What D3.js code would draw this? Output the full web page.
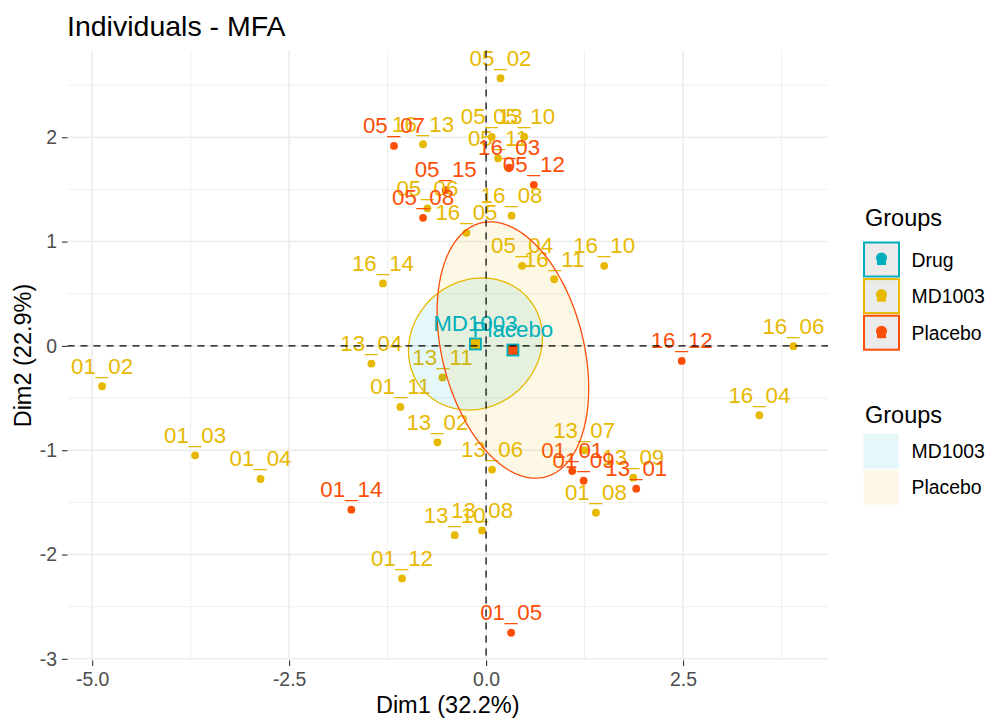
<!DOCTYPE html>
<html>
<head>
<meta charset="utf-8">
<script src="https://cdn.jsdelivr.net/npm/d3@7/dist/d3.min.js"></script>
<style>
  html, body { margin: 0; padding: 0; background: #fff; }
  svg { display: block; font-family: "Liberation Sans", Arial, sans-serif; }
</style>
</head>
<body>
<svg id="chart" width="985" height="719"></svg>
<script>
// Individuals on the first two MFA dimensions
const individuals = [
  "05_02","16_13","05_13","05_10","05_11","05_06","16_08","16_05","05_04","16_10",
  "16_11","16_14","13_04","13_11","01_11","13_02","13_06","13_07","13_09","01_08",
  "13_10","13_08","01_12","01_02","01_03","01_04","16_06","16_04",
  "05_07","16_03","05_12","05_15","05_08","16_12","01_01","01_09","13_01","01_14","01_05"
];
const dim1 = [
  0.183,-0.800,0.072,0.483,0.152,-0.745,0.323,-0.249,0.457,1.499,
  0.864,-1.309,-1.456,-0.554,-1.088,-0.618,0.076,1.245,1.868,1.394,
  -0.398,-0.051,-1.067,-4.874,-3.693,-2.863,3.901,3.469,
  -1.169,0.292,0.606,-0.512,-0.800,2.483,1.093,1.238,1.906,-1.710,0.318
];
const dim2 = [
  2.566,1.933,2.003,2.006,1.798,1.319,1.248,1.084,0.768,0.768,
  0.640,0.599,-0.169,-0.303,-0.585,-0.924,-1.186,-1.001,-1.263,-1.599,
  -1.814,-1.769,-2.229,-0.387,-1.049,-1.276,-0.003,-0.665,
  1.917,1.708,1.544,1.494,1.228,-0.144,-1.200,-1.292,-1.369,-1.570,-2.750
];
const groups = [
  "MD1003","MD1003","MD1003","MD1003","MD1003","MD1003","MD1003","MD1003","MD1003","MD1003",
  "MD1003","MD1003","MD1003","MD1003","MD1003","MD1003","MD1003","MD1003","MD1003","MD1003",
  "MD1003","MD1003","MD1003","MD1003","MD1003","MD1003","MD1003","MD1003",
  "Placebo","Placebo","Placebo","Placebo","Placebo","Placebo","Placebo","Placebo","Placebo","Placebo","Placebo"
];
const groupLevels = ["MD1003", "Placebo"];
const colorLevels = ["Drug", "MD1003", "Placebo"];
const palette = ["#00AFBB", "#E7B800", "#FC4E07"];
const xTicks = [-5, -2.5, 0, 2.5];
const xTickLabels = ["-5.0", "-2.5", "0.0", "2.5"];
const yTicks = [-3, -2, -1, 0, 1, 2];
const yTickLabels = ["-3", "-2", "-1", "0", "1", "2"];
const chiSq95 = 5.991; // 95% quantile, chi-square with 2 df

const points = individuals.map((name, i) => ({ name, x: dim1[i], y: dim2[i], g: groups[i] }));

const svg = d3.select("#chart");
const panel = { left: 67.5, right: 828, top: 50.5, bottom: 660.5 };
const font = "'Liberation Sans', Arial, sans-serif";

const colour = d3.scaleOrdinal().domain(colorLevels).range(palette);
const fillColour = d3.scaleOrdinal().domain(groupLevels).range(palette.slice(0, 2));

// 5% expansion around the data, as in ggplot
function expand(ext) { const d = ext[1] - ext[0]; return [ext[0] - 0.05 * d, ext[1] + 0.05 * d]; }
const x = d3.scaleLinear().domain(expand(d3.extent(dim1))).range([panel.left, panel.right]);
const y = d3.scaleLinear().domain(expand(d3.extent(dim2))).range([panel.bottom, panel.top]);

// grid
const grid = svg.append("g");
const xMinor = xTicks.map(t => t + 1.25).concat([xTicks[0] - 1.25]).filter(v => v > x.domain()[0] && v < x.domain()[1]);
const yMinor = yTicks.map(t => t + 0.5).concat([yTicks[0] - 0.5]).filter(v => v > y.domain()[0] && v < y.domain()[1]);
grid.selectAll(".xm").data(xMinor).join("line")
  .attr("x1", d => x(d)).attr("x2", d => x(d)).attr("y1", panel.top).attr("y2", panel.bottom)
  .attr("stroke", "#EBEBEB").attr("stroke-width", 0.8);
grid.selectAll(".ym").data(yMinor).join("line")
  .attr("y1", d => y(d)).attr("y2", d => y(d)).attr("x1", panel.left).attr("x2", panel.right)
  .attr("stroke", "#EBEBEB").attr("stroke-width", 0.8);
grid.selectAll(".xM").data(xTicks).join("line")
  .attr("x1", d => x(d)).attr("x2", d => x(d)).attr("y1", panel.top).attr("y2", panel.bottom)
  .attr("stroke", "#EBEBEB").attr("stroke-width", 1.5);
grid.selectAll(".yM").data(yTicks).join("line")
  .attr("y1", d => y(d)).attr("y2", d => y(d)).attr("x1", panel.left).attr("x2", panel.right)
  .attr("stroke", "#EBEBEB").attr("stroke-width", 1.5);

// confidence ellipses around each group barycenter
function confEllipse(g) {
  const pts = points.filter(p => p.g === g);
  const n = pts.length;
  const mx = d3.mean(pts, p => p.x), my = d3.mean(pts, p => p.y);
  const sxx = d3.sum(pts, p => (p.x - mx) ** 2) / (n - 1);
  const syy = d3.sum(pts, p => (p.y - my) ** 2) / (n - 1);
  const sxy = d3.sum(pts, p => (p.x - mx) * (p.y - my)) / (n - 1);
  const k = chiSq95 / n;
  const l11 = Math.sqrt(k * sxx);
  const l21 = k * sxy / l11;
  const l22 = Math.sqrt(k * syy - l21 * l21);
  const ring = d3.range(0, 121).map(i => {
    const t = i / 120 * 2 * Math.PI;
    return [mx + l11 * Math.cos(t), my + l21 * Math.cos(t) + l22 * Math.sin(t)];
  });
  return { g, mx, my, ring };
}
const ellipses = groupLevels.map(confEllipse);
const line = d3.line().x(d => x(d[0])).y(d => y(d[1]));

const ellG = svg.append("g");
ellG.selectAll("path.fill").data(ellipses).join("path")
  .attr("d", d => line(d.ring) + "Z")
  .attr("fill", d => fillColour(d.g)).attr("fill-opacity", 0.1).attr("stroke", "none");

// individuals
svg.append("g").selectAll("circle").data(points).join("circle")
  .attr("cx", d => x(d.x)).attr("cy", d => y(d.y)).attr("r", 3.9)
  .attr("fill", d => colour(d.g));

svg.append("g").selectAll("text").data(points).join("text")
  .attr("x", d => x(d.x)).attr("y", d => y(d.y) - 12.6)
  .attr("text-anchor", "middle").attr("font-size", 22.3).attr("font-family", font)
  .attr("fill", d => colour(d.g)).text(d => d.name);

ellG.raise();
ellG.selectAll("path.line").data(ellipses).join("path")
  .attr("d", d => line(d.ring) + "Z")
  .attr("fill", "none").attr("stroke", d => colour(d.g)).attr("stroke-width", 1.3);

// barycenters
const bary = svg.append("g");
bary.selectAll("rect").data(ellipses).join("rect")
  .attr("x", d => x(d.mx) - 5.5).attr("y", d => y(d.my) - 5.5)
  .attr("width", 11).attr("height", 11)
  .attr("fill", d => colour(d.g)).attr("stroke", colour("Drug")).attr("stroke-width", 1.8);
bary.selectAll("text").data(ellipses).join("text")
  .attr("x", d => x(d.mx)).attr("y", d => y(d.my) - 12.6)
  .attr("text-anchor", "middle").attr("font-size", 22.3).attr("font-family", font)
  .attr("fill", colour("Drug")).text(d => d.g);

// reference lines through the origin
svg.append("line").attr("x1", x(0)).attr("x2", x(0)).attr("y1", panel.top).attr("y2", panel.bottom)
  .attr("stroke", "#000").attr("stroke-width", 1.2).attr("stroke-dasharray", "7,6");
svg.append("line").attr("y1", y(0)).attr("y2", y(0)).attr("x1", panel.left).attr("x2", panel.right)
  .attr("stroke", "#000").attr("stroke-width", 1.2).attr("stroke-dasharray", "7,6");

// axes
const xAxis = d3.axisBottom(x).tickValues(xTicks).tickFormat((d, i) => xTickLabels[i]).tickSize(5.5).tickPadding(6);
const yAxis = d3.axisLeft(y).tickValues(yTicks).tickFormat((d, i) => yTickLabels[i]).tickSize(5.5).tickPadding(5);
const gx = svg.append("g").attr("transform", `translate(0,${panel.bottom})`).call(xAxis);
const gy = svg.append("g").attr("transform", `translate(${panel.left},0)`).call(yAxis);
[gx, gy].forEach(g => {
  g.select(".domain").remove();
  g.selectAll(".tick line").attr("stroke", "#333").attr("stroke-width", 1.1);
  g.selectAll(".tick text").attr("fill", "#4D4D4D").attr("font-size", 19.4).attr("font-family", font);
});
gx.selectAll(".tick text").attr("dy", "0.72em");

svg.append("text").attr("x", (panel.left + panel.right) / 2).attr("y", 713)
  .attr("text-anchor", "middle").attr("font-size", 23.5).attr("font-family", font)
  .attr("fill", "#000").text("Dim1 (32.2%)");
svg.append("text").attr("transform", `translate(31,${(panel.top + panel.bottom) / 2}) rotate(-90)`)
  .attr("text-anchor", "middle").attr("font-size", 23.5).attr("font-family", font)
  .attr("fill", "#000").text("Dim2 (22.9%)");

svg.append("text").attr("x", 67).attr("y", 36).attr("font-size", 28.5).attr("font-family", font)
  .attr("fill", "#000").text("Individuals - MFA");

// legend: colour
const leg = svg.append("g");
leg.append("text").attr("x", 865).attr("y", 226).attr("font-size", 23.5).attr("font-family", font).text("Groups");
const keyX = 864, keyW = 35, keyH = 34, keyStep = 36.6;
const k1 = leg.selectAll("g.k1").data(colorLevels).join("g")
  .attr("transform", (d, i) => `translate(${keyX},${242.5 + i * keyStep})`);
k1.append("rect").attr("width", keyW).attr("height", keyH)
  .attr("fill", "#EBEBEB").attr("stroke", d => colour(d)).attr("stroke-width", 2);
k1.append("circle").attr("cx", keyW / 2).attr("cy", keyH / 2 - 1.5).attr("r", 5.5).attr("fill", d => colour(d));
k1.append("rect").attr("x", keyW / 2 - 4.5).attr("y", keyH / 2 - 1).attr("width", 9).attr("height", 6.5)
  .attr("fill", d => colour(d));
k1.append("text").attr("x", 47.5).attr("y", keyH / 2 + 7).attr("font-size", 19.4).attr("font-family", font)
  .attr("fill", "#000").text(d => d);

// legend: ellipse fill
leg.append("text").attr("x", 865).attr("y", 423).attr("font-size", 23.5).attr("font-family", font).text("Groups");
const k2 = leg.selectAll("g.k2").data(groupLevels).join("g")
  .attr("transform", (d, i) => `translate(${keyX - 0.5},${433.5 + i * 36.3})`);
k2.append("rect").attr("width", keyW).attr("height", 35)
  .attr("fill", d => fillColour(d)).attr("fill-opacity", 0.1);
k2.append("text").attr("x", 48).attr("y", 17.5 + 7).attr("font-size", 19.4).attr("font-family", font)
  .attr("fill", "#000").text(d => d);
</script>
</body>
</html>
